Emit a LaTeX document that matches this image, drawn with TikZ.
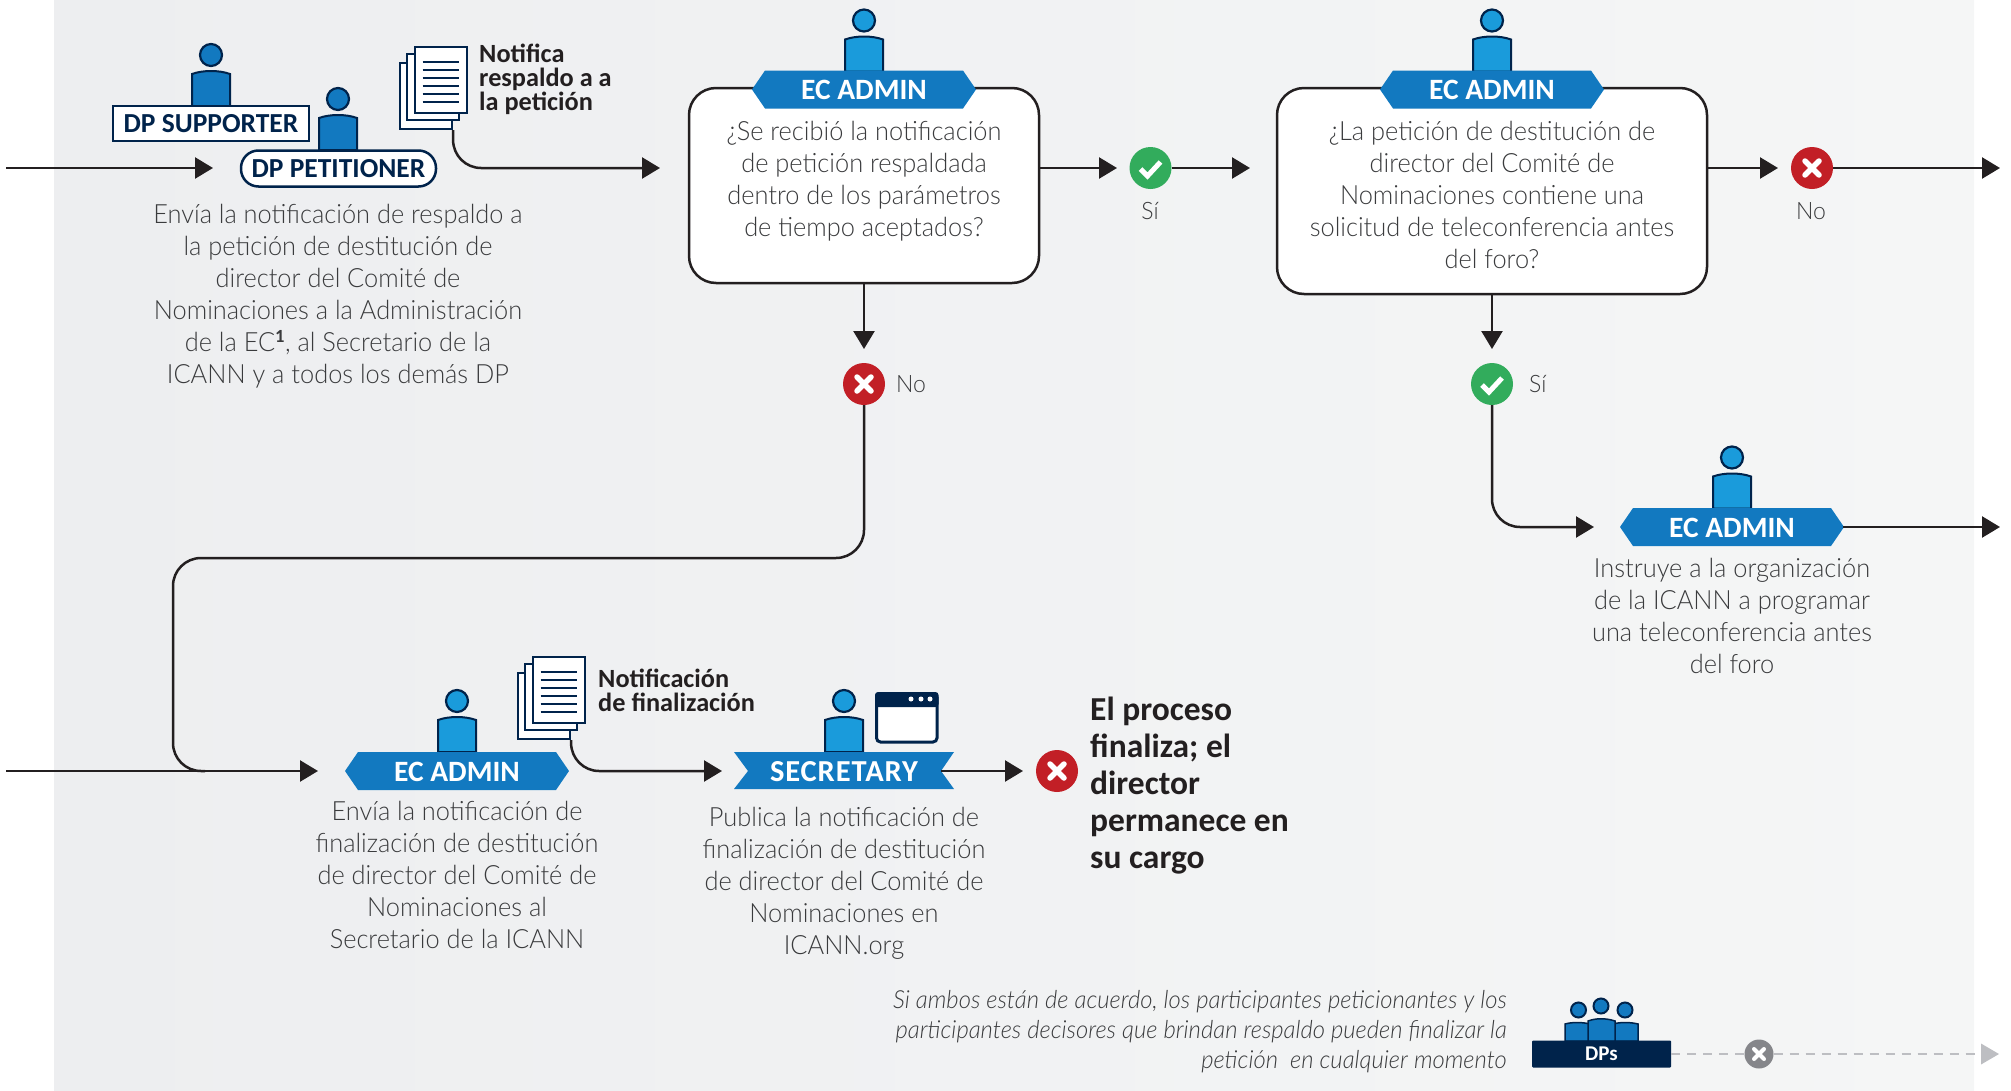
\documentclass[tikz,border=0pt]{standalone}
\usepackage{fontspec}
\setmainfont{Carlito}
\newfontfamily\lightfont[FakeStretch=0.958]{Lato Light}
\newfontfamily\lightitalic[FakeStretch=0.958]{Lato Light Italic}
\usetikzlibrary{arrows.meta,calc}
\definecolor{ink}{HTML}{231F20}
\definecolor{bodytxt}{HTML}{3A3B3D}
\definecolor{navy}{HTML}{00234B}
\definecolor{midblue}{HTML}{1279C0}
\definecolor{ltblue}{HTML}{1A9BDB}
\definecolor{okgreen}{HTML}{32AC5C}
\definecolor{nored}{HTML}{C21F26}
\definecolor{dashgrey}{HTML}{BDBEC2}
\definecolor{xgrey}{HTML}{85868A}
\newcommand{\bannerat}[4]{%
  \begin{scope}[shift={(#2,#3)}]
    \fill[midblue] (-112,0)--(-99,-19)--(99,-19)--(112,0)--(99,19)--(-99,19)--cycle;
    \node (#1) [bannerlabel] at (0,0.5) {#4};
  \end{scope}}
\newcommand{\docstackat}[3]{%
  \begin{scope}[shift={(#2,#3)}]
    \node (#1) [docpage,anchor=north west] at (0,16) {};
    \node (#1b) [docpage,anchor=north west] at (7,7) {};
    \node (#1c) [docpage,anchor=north west] at (15,0) {};
    \foreach \yy in {16,24,32,40,48,56}
      \draw[navy,line width=2pt] (24,\yy) -- (60,\yy);
  \end{scope}}
\tikzset{
  x=1pt,y=-1pt,
  conn/.style={ink,line width=2.5pt,-{Triangle[length=18pt,width=21pt]}},
  curved/.style={conn,rounded corners=28pt},
  person/.pic={
    \draw[navy,line width=2pt,fill=#1] (-19,0) -- (-19,-32) .. controls (-8,-36) and (8,-36) .. (19,-32) -- (19,0) -- cycle;
    \draw[navy,line width=2.2pt,fill=#1] (0,-51) circle (11pt);
  },
  bannerlabel/.style={text=white,font=\fontsize{29.5}{30}\selectfont\bfseries,minimum width=194pt,minimum height=38pt,inner sep=0pt},
  docpage/.style={draw=navy,fill=white,line width=2.6pt,minimum width=52pt,minimum height=66pt,inner sep=0pt},
  bodylabel/.style={text=bodytxt,align=center,font=\lightfont\fontsize{26.5}{32}\selectfont,inner sep=0pt},
  smalllabel/.style={text=bodytxt,font=\lightfont\fontsize{24}{26}\selectfont,inner sep=0pt},
  doclabel/.style={text=ink,align=left,anchor=west,font=\fontsize{26.3}{24}\selectfont\bfseries,inner sep=0pt},
  qbox/.style={draw=ink,fill=white,line width=2.5pt,rounded corners=27pt,inner sep=0pt},
  yesmark/.style={circle,fill=okgreen,minimum size=42pt,inner sep=0pt,
    path picture={\draw[white,line width=5pt] ($(path picture bounding box.center)+(-10,1)$) -- ++(7,7) -- ++(13,-14);}},
  nomark/.style={circle,fill=nored,minimum size=42pt,inner sep=0pt,
    path picture={\draw[white,line width=5.5pt,line cap=round] ($(path picture bounding box.center)+(-7,-7)$) -- ++(14,14) ($(path picture bounding box.center)+(7,-7)$) -- ++(-14,14);}},
  greymark/.style={circle,fill=xgrey,minimum size=29pt,inner sep=0pt,
    path picture={\draw[white,line width=4pt,line cap=round] ($(path picture bounding box.center)+(-5,-5)$) -- ++(10,10) ($(path picture bounding box.center)+(5,-5)$) -- ++(-10,10);}},
}
\begin{document}
\begin{tikzpicture}
\useasboundingbox (0,0) rectangle (2011,1090);
\fill[left color={rgb,255:red,237;green,238;blue,240},right color={rgb,255:red,245;green,246;blue,246}] (54,0) rectangle (1974,1090);

% --- free ends
\coordinate (inA) at (6,168);
\coordinate (tipA) at (213,168);
\coordinate (tipB) at (660,168);
\coordinate (tipC) at (1117,168);
\coordinate (tipD) at (1250,168);
\coordinate (tipE) at (1778,168);
\coordinate (tipF) at (2000,168);
\coordinate (tipG) at (864,349);
\coordinate (tipH) at (1492,349);
\coordinate (tipI) at (1594,527);
\coordinate (tipJ) at (2000,527);
\coordinate (startJ) at (1843,527);
\coordinate (inB) at (6,771);
\coordinate (tipK) at (318,771);
\coordinate (tipL) at (722,771);
\coordinate (tipM) at (1023,771);
\coordinate (tipN) at (1999,1054);
\coordinate (bendA) at (864,558);
\coordinate (bendB) at (173,558);
\coordinate (bendC) at (173,771);
\coordinate (bendD) at (205,771);

% --- first actor group
\pic at (211,106) {person=midblue};
\node (supporter) [draw=navy,fill=white,line width=2.5pt,text=navy,minimum width=196pt,minimum height=35pt,inner sep=0pt,font=\fontsize{27.5}{28}\selectfont\bfseries] at (211,123.5) {DP SUPPORTER};
\pic at (338,150) {person=midblue};
\node (petitioner) [draw=navy,fill=white,line width=2.5pt,text=navy,rounded corners=17.5pt,minimum width=195pt,minimum height=36pt,inner sep=0pt,font=\fontsize{27.5}{28}\selectfont\bfseries] at (338.5,168.5) {DP PETITIONER};
\docstackat{docA}{398.5}{45.5}
\node (docAlabel) [doclabel] at (479,79.5) {Notifica\\respaldo a a\\la petición};
\node (sendtxt) [bodylabel] at (338,296) {Envía la notificación de respaldo a\\la petición de destitución de\\director del Comité de\\Nominaciones a la Administración\\de la EC\textsuperscript{\normalfont\bfseries 1}, al Secretario de la\\ICANN y a todos los demás DP};

% --- question 1
\pic at (864,71.5) {person=ltblue};
\node (box1) [qbox,minimum width=350pt,minimum height=195pt] at (864,185.5) {};
\bannerat{adminA}{864}{89.5}{EC ADMIN}
\node (box1txt) [bodylabel] at (864,181) {¿Se recibió la notificación\\de petición respaldada\\dentro de los parámetros\\de tiempo aceptados?};
\node (yesA) [yesmark] at (1150.5,168) {};
\node (yesAtxt) [smalllabel] at (1150,211.5) {Sí};
\node (noA) [nomark] at (864,384) {};
\node (noAtxt) [smalllabel,anchor=west] at (896,384.5) {No};

% --- question 2
\pic at (1492,71.5) {person=ltblue};
\node (box2) [qbox,minimum width=430pt,minimum height=206pt] at (1492,191) {};
\bannerat{adminB}{1492}{89.5}{EC ADMIN}
\node (box2txt) [bodylabel] at (1492,195) {¿La petición de destitución de\\director del Comité de\\Nominaciones contiene una\\solicitud de teleconferencia antes\\del foro?};
\node (noB) [nomark] at (1812,168) {};
\node (noBtxt) [smalllabel] at (1811,211.5) {No};
\node (yesB) [yesmark] at (1492,384) {};
\node (yesBtxt) [smalllabel,anchor=west] at (1529,384.5) {Sí};

% --- teleconference
\pic at (1732,508.5) {person=ltblue};
\bannerat{adminC}{1732}{527}{EC ADMIN}
\node (teletxt) [bodylabel] at (1732,616) {Instruye a la organización\\de la ICANN a programar\\una teleconferencia antes\\del foro};

% --- bottom row
\pic at (457,752) {person=ltblue};
\bannerat{adminD}{457}{771}{EC ADMIN}
\docstackat{docB}{516.5}{655.5}
\node (docBlabel) [doclabel] at (598,690) {Notificación\\de finalización};
\node (endtxt) [bodylabel] at (457,875) {Envía la notificación de\\finalización de destitución\\de director del Comité de\\Nominaciones al\\Secretario de la ICANN};

\pic at (844,752) {person=ltblue};
\draw[navy,line width=3pt,fill=white,rounded corners=4pt] (876.5,693.5) rectangle (937,742);
\fill[navy,rounded corners=3pt] (875,692) rectangle (938.5,707);
\foreach \dotx in {911,921,930} \fill[white] (\dotx,699) circle (2.5pt);
\fill[midblue] (734,752)--(954,752)--(941,771)--(954,789)--(734,789)--(748,771)--cycle;
\node (secretary) [bannerlabel,font=\fontsize{30.5}{30}\selectfont\bfseries\addfontfeature{LetterSpace=3}] at (844,771.5) {SECRETARY};
\node (pubtxt) [bodylabel] at (844,883) {Publica la notificación de\\finalización de destitución\\de director del Comité de\\Nominaciones en\\ICANN.org};
\node (noC) [nomark] at (1057,771) {};
\node (closetxt) [text=ink,align=left,anchor=north west,inner sep=0pt,font=\fontsize{33.5}{37}\selectfont\bfseries] at (1090,697) {El proceso\\finaliza; el\\director\\permanece en\\su cargo};

% --- DPs
\node (noteItal) [text=bodytxt,align=right,anchor=east,inner sep=0pt,font=\lightitalic\fontsize{24.9}{30}\selectfont] at (1507,1032) {Si ambos están de acuerdo, los participantes peticionantes y los\\participantes decisores que brindan respaldo pueden finalizar la\\petición\ \ en cualquier momento};
\foreach \hx/\hy in {1578.5/1010,1625/1010,1601/1006}
  \draw[navy,line width=2pt,fill=midblue] (\hx,\hy) circle (7.5pt);
\draw[navy,line width=1.5pt,fill=midblue] (1565,1041) -- (1565,1024) .. controls (1572,1022) and (1582,1022) .. (1590,1024) -- (1590,1041) -- cycle;
\draw[navy,line width=1.5pt,fill=midblue] (1613,1041) -- (1613,1024) .. controls (1620,1022) and (1630,1022) .. (1638,1024) -- (1638,1041) -- cycle;
\draw[navy,line width=1.5pt,fill=midblue] (1588,1041) -- (1588,1021) .. controls (1596,1018) and (1606,1018) .. (1615,1021) -- (1615,1041) -- cycle;
\node (dps) [fill=navy,text=white,rounded corners=1pt,minimum width=139pt,minimum height=27pt,inner sep=0pt,font=\fontsize{21}{22}\selectfont\bfseries] at (1601.5,1054) {DPs};
\node (greyX) [greymark] at (1759,1054) {};

% --- connectors
\draw[conn] (inA) -- (tipA);
\draw[curved] (docA.south east) |- (tipB);
\draw[conn] (box1.east |- tipB) -- (tipC);
\draw[conn] (yesA) -- (tipD);
\draw[conn] (box2.east |- tipE) -- (tipE);
\draw[conn] (noB) -- (tipF);
\draw[conn] (box1.south) -- (tipG);
\draw[conn] (box2.south) -- (tipH);
\draw[curved] (yesB) |- (tipI);
\draw[conn] (startJ) -- (tipJ);
\draw[ink,line width=2.5pt,rounded corners=28pt] (noA) -- (bendA) -- (bendB) -- (bendC) -- (bendD);
\draw[conn] (inB) -- (tipK);
\draw[curved] (docB.south east) |- (tipL);
\draw[conn] (secretary.east |- tipM) -- (tipM);
\draw[dashgrey,line width=2.5pt,dash pattern=on 9pt off 7pt] (dps.east) -- (greyX);
\draw[dashgrey,line width=2.5pt,dash pattern=on 9pt off 7pt] (greyX) -- ($(tipN)+(-18,0)$);
\fill[dashgrey] (tipN) -- ++(-18,-10.5) -- ++(0,21) -- cycle;
\end{tikzpicture}
\end{document}
